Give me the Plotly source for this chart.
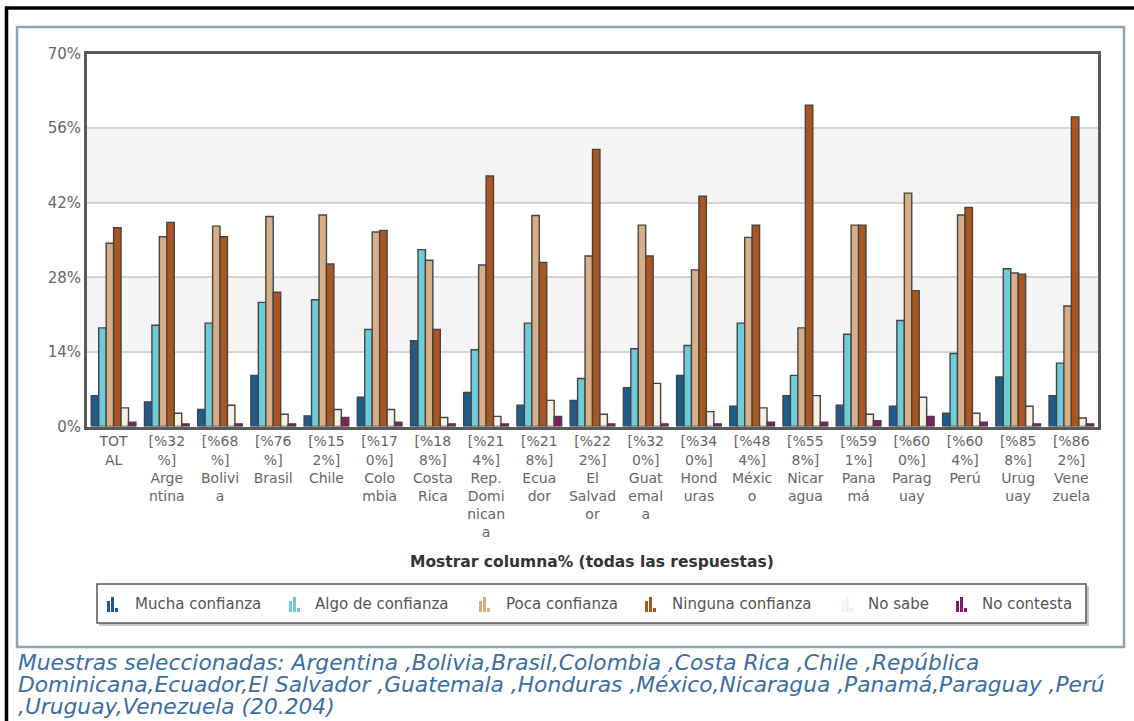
import plotly.graph_objects as go

W, H = 1134, 721

categories = ["TOTAL", "Argentina", "Bolivia", "Brasil", "Chile", "Colombia", "Costa Rica",
              "Rep. Dominicana", "Ecuador", "El Salvador", "Guatemala", "Honduras", "México",
              "Nicaragua", "Panamá", "Paraguay", "Perú", "Uruguay", "Venezuela"]

tick_labels = ["TOT<br>AL", "[%32<br>%]<br>Arge<br>ntina", "[%68<br>%]<br>Bolivi<br>a",
               "[%76<br>%]<br>Brasil", "[%15<br>2%]<br>Chile", "[%17<br>0%]<br>Colo<br>mbia",
               "[%18<br>8%]<br>Costa<br>Rica", "[%21<br>4%]<br>Rep.<br>Domi<br>nican<br>a",
               "[%21<br>8%]<br>Ecua<br>dor", "[%22<br>2%]<br>El<br>Salvad<br>or",
               "[%32<br>0%]<br>Guat<br>emal<br>a", "[%34<br>0%]<br>Hond<br>uras",
               "[%48<br>4%]<br>Méxic<br>o", "[%55<br>8%]<br>Nicar<br>agua",
               "[%59<br>1%]<br>Pana<br>má", "[%60<br>0%]<br>Parag<br>uay", "[%60<br>4%]<br>Perú",
               "[%85<br>8%]<br>Urug<br>uay", "[%86<br>2%]<br>Vene<br>zuela"]

series_names = ["Mucha confianza", "Algo de confianza", "Poca confianza",
                "Ninguna confianza", "No sabe", "No contesta"]

mucha = [5.8, 4.6, 3.2, 9.6, 2.0, 5.5, 16.1, 6.4, 4.0, 4.9, 7.3, 9.6, 3.8, 5.8, 4.0, 3.8, 2.5, 9.3, 5.8]
algo = [18.5, 19.0, 19.4, 23.3, 23.8, 18.2, 33.2, 14.4, 19.4, 9.0, 14.6, 15.2, 19.4, 9.6, 17.3, 19.9, 13.7, 29.6, 11.9]
poca = [34.4, 35.6, 37.6, 39.4, 39.7, 36.5, 31.2, 30.3, 39.6, 32.0, 37.8, 29.4, 35.5, 18.5, 37.8, 43.8, 39.7, 28.8, 22.6]
ninguna = [37.3, 38.3, 35.6, 25.2, 30.5, 36.8, 18.2, 47.0, 30.8, 52.0, 32.0, 43.2, 37.8, 60.3, 37.8, 25.5, 41.1, 28.6, 58.1]
no_sabe = [3.5, 2.5, 4.0, 2.3, 3.2, 3.2, 1.7, 1.9, 4.9, 2.3, 8.1, 2.8, 3.5, 5.8, 2.3, 5.5, 2.5, 3.8, 1.6]
no_contesta = [0.8, 0.5, 0.5, 0.5, 1.7, 0.8, 0.5, 0.5, 1.9, 0.5, 0.5, 0.5, 0.8, 0.8, 1.1, 1.9, 0.8, 0.5, 0.5]

y_ticks = [0, 14, 28, 42, 56, 70]

colors = ["#1f5b8b", "#6ecbd9", "#d9ae87", "#a9571f", "#f8f0e4", "#7d1f62"]
values = [mucha, algo, poca, ninguna, no_sabe, no_contesta]

FONT = "DejaVu Sans, Verdana, sans-serif"


def px(x):
    return x / W


def py(y):
    return 1 - y / H


fig = go.Figure()
for name, vals, col in zip(series_names, values, colors):
    fig.add_trace(go.Bar(
        x=categories, y=vals, name=name,
        marker=dict(color=col, line=dict(color="#444444", width=1.4)),
        showlegend=False,
    ))

shapes = []
# alternating horizontal bands
for lo, hi in [(14, 28), (42, 56)]:
    shapes.append(dict(type="rect", xref="x domain", yref="y", x0=0, x1=1, y0=lo, y1=hi,
                       fillcolor="#f4f4f4", line=dict(width=0), layer="below"))

# outer black frame (top and left edges)
shapes.append(dict(type="line", xref="paper", yref="paper", x0=px(5), x1=px(1134),
                   y0=py(8), y1=py(8), line=dict(color="#000000", width=3.5)))
shapes.append(dict(type="line", xref="paper", yref="paper", x0=px(6.5), x1=px(6.5),
                   y0=py(6.5), y1=py(721), line=dict(color="#000000", width=3.5)))
# inner steel-blue panel
shapes.append(dict(type="rect", xref="paper", yref="paper", x0=px(17), x1=px(1124),
                   y0=py(27), y1=py(647), line=dict(color="#8ea5b5", width=2.5)))

# legend box with shadow
shapes.append(dict(type="rect", xref="paper", yref="paper", x0=px(99), x1=px(1089),
                   y0=py(586), y1=py(626), fillcolor="#c8c8c8", line=dict(width=0)))
shapes.append(dict(type="rect", xref="paper", yref="paper", x0=px(97), x1=px(1086),
                   y0=py(584), y1=py(623), fillcolor="#ffffff",
                   line=dict(color="#555555", width=1.5)))

annotations = []
legend_icon_x = [107, 289, 479, 645, 842, 956]
legend_text_x = [133, 313, 504, 670, 866, 980]
icon_bars = [(0, 3, 11), (4, 3, 15), (8, 3, 4)]
for name, col, ix, tx in zip(series_names, colors, legend_icon_x, legend_text_x):
    for dx, w, h in icon_bars:
        shapes.append(dict(type="rect", xref="paper", yref="paper",
                           x0=px(ix + dx), x1=px(ix + dx + w), y0=py(612), y1=py(612 - h),
                           fillcolor=col, line=dict(width=0)))
    annotations.append(dict(xref="paper", yref="paper", x=px(tx), y=py(604),
                            xanchor="left", yanchor="middle", showarrow=False, text=name,
                            font=dict(family=FONT, size=15, color="#555555")))

annotations.append(dict(xref="paper", yref="paper", x=px(592), y=py(562),
                        xanchor="center", yanchor="middle", showarrow=False,
                        text="<b>Mostrar columna% (todas las respuestas)</b>",
                        font=dict(family=FONT, size=15.5, color="#333333")))

footer_lines = [
    "Muestras seleccionadas: Argentina ,Bolivia,Brasil,Colombia ,Costa Rica ,Chile ,República",
    "Dominicana,Ecuador,El Salvador ,Guatemala ,Honduras ,México,Nicaragua ,Panamá,Paraguay ,Perú",
    ",Uruguay,Venezuela (20.204)",
]
for line, yc in zip(footer_lines, [662, 684, 706]):
    annotations.append(dict(xref="paper", yref="paper", x=px(16), y=py(yc),
                            xanchor="left", yanchor="middle", showarrow=False,
                            text="<i>" + line + "</i>",
                            font=dict(family=FONT, size=21.75, color="#3a6ea3")))

fig.update_layout(
    template="none",
    width=W, height=H, autosize=False,
    margin=dict(l=0, r=0, t=0, b=0, pad=0, autoexpand=False),
    paper_bgcolor="#ffffff", plot_bgcolor="#ffffff",
    barmode="group", bargap=0.16, bargroupgap=0,
    font=dict(family=FONT, size=14, color="#666666"),
    shapes=shapes, annotations=annotations,
    xaxis=dict(
        domain=[px(87), px(1098)], automargin=False,
        type="category", tickmode="array", tickvals=categories, ticktext=tick_labels,
        tickfont=dict(family=FONT, size=14, color="#666666"),
        showline=True, linecolor="#5a5a5a", linewidth=3, mirror=True,
        showgrid=False, ticks="", tickangle=0,
    ),
    yaxis=dict(
        domain=[py(426.5), py(53.5)], automargin=False,
        range=[0, 70], tickmode="array", tickvals=y_ticks,
        ticktext=[f"{v}%" for v in y_ticks],
        tickfont=dict(family=FONT, size=15, color="#666666"),
        showline=True, linecolor="#5a5a5a", linewidth=3, mirror=True,
        showgrid=True, gridcolor="#d4d4d4", gridwidth=1.5, zeroline=False, ticks="",
    ),
)

fig.write_html("out.html")
